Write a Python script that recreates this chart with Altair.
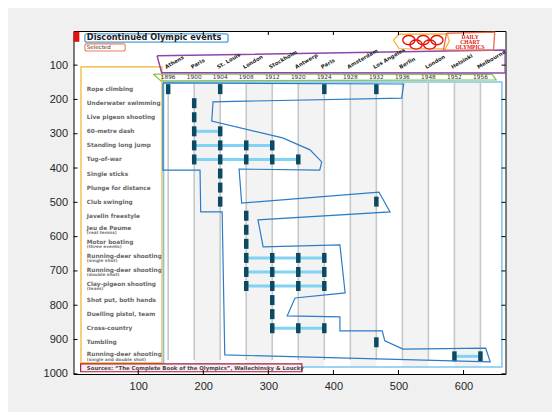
import altair as alt
import pandas as pd

# ---------------- data (image coordinates of the infographic) ----------------
years = [1896, 1900, 1904, 1908, 1912, 1920, 1924, 1928, 1932, 1936, 1948, 1952, 1956]
year_x = [146, 186, 226, 266, 306, 346, 386, 426, 466, 506, 546, 586, 626]
cities = ["Athens", "Paris", "St. Louis", "London", "Stockholm", "Antwerp", "Paris",
          "Amsterdam", "Los Angeles", "Berlin", "London", "Helsinki", "Melbourne"]

events = ["Rope climbing", "Underwater swimming", "Live pigeon shooting", "60-metre dash",
          "Standing long jump", "Tug-of-war", "Single sticks", "Plunge for distance",
          "Club swinging", "Javelin freestyle", "Jeu de Paume", "Motor boating",
          "Running-deer shooting", "Running-deer shooting", "Clay-pigeon shooting",
          "Shot put, both hands", "Duelling pistol, team", "Cross-country", "Tumbling",
          "Running-deer shooting"]
subtitles = ["", "", "", "", "", "", "", "", "", "", "(real tennis)", "(three events)",
             "(single shot)", "(double shot)", "(team)", "", "", "", "",
             "(single and double shot)"]
row_y = [170, 211, 252, 293, 334, 375, 416, 457, 498, 539, 580, 621, 662, 703, 744,
         785, 826, 867, 908, 949]
event_years = [
    [1896, 1904, 1924, 1932], [1900], [1900], [1900, 1904], [1900, 1904, 1908, 1912],
    [1900, 1904, 1908, 1912, 1920], [1904], [1904], [1904, 1932], [1908], [1908], [1908],
    [1908, 1912, 1920, 1924], [1908, 1912, 1920, 1924], [1908, 1912, 1920, 1924],
    [1912], [1912], [1912, 1920, 1924], [1932], [1952, 1956]]

x_ticks = [100, 200, 300, 400, 500, 600]
y_ticks = [100, 200, 300, 400, 500, 600, 700, 800, 900, 1000]

# shaded year columns
shade_x1 = [186, 266, 346, 426, 506, 586]
shade_x2 = [226, 306, 386, 466, 546, 626]

# overlay outlines
sel_x = [138, 138, 195, 196, 229, 233, 641, 634, 507, 479, 475, 410, 410, 329, 341, 418,
         410, 292, 284, 487, 470, 259, 255, 379, 382, 364, 322, 213, 215, 505, 508, 138]
sel_y = [152, 406, 406, 528, 528, 945, 965, 925, 928, 904, 875, 875, 834, 831, 779, 764,
         624, 630, 551, 528, 470, 502, 403, 406, 382, 347, 312, 263, 207, 196, 155, 152]
purple_x = [129, 664, 664, 136, 129]
purple_y = [73, 56, 123, 122, 73]
green_x = [123, 644, 650, 135, 123]
green_y = [126, 127, 143, 146, 126]
hex_x = [492, 501, 575, 578, 572, 501, 492]
hex_y = [27, 10, 9, 30, 53, 52, 27]
daily_x = [574, 648, 646, 569, 574]
daily_y = [7, 4, 56, 56, 7]
ring_x = [516, 538, 559, 527, 548]
ring_y = [27, 27, 27, 40, 40]
daily_text = ["DAILY", "CHART", "OLYMPICS"]
daily_text_y = [19, 33, 47]

# ---------------- helpers ----------------
W, H = 432, 343
xs = alt.Scale(domain=[0.5, 664.5], nice=False, zero=False)
ys = alt.Scale(domain=[0.5, 1000.5], nice=False, zero=False, reverse=True)
xaxis = alt.Axis(values=x_ticks, title=None, ticks=False, domain=False, grid=False,
                 labelPadding=6, format="d")
yaxis = alt.Axis(values=y_ticks, title=None, ticks=False, domain=False, grid=False,
                 labelPadding=6, format="d")


def X(f):
    return alt.X(f, type="quantitative", scale=xs, axis=xaxis)


def Y(f):
    return alt.Y(f, type="quantitative", scale=ys, axis=yaxis)


def poly(xv, yv, color, width=1.2):
    df = pd.DataFrame({"px": xv, "py": yv, "o": list(range(len(xv)))})
    return alt.Chart(df).mark_line(color=color, strokeWidth=width, clip=True).encode(
        x=X("px"), y=Y("py"), order="o:Q")


layers = []

# shaded columns
sh = pd.DataFrame({"x1": shade_x1, "x2": shade_x2, "y1": [149] * 6, "y2": [980] * 6})
layers.append(alt.Chart(sh).mark_rect(color="#f3f3f3").encode(
    x=X("x1"), x2="x2", y=Y("y1"), y2="y2"))

# vertical year lines
yl = pd.DataFrame({"x": year_x, "y1": [152] * 13, "y2": [960] * 13})
layers.append(alt.Chart(yl).mark_rule(color="#c8c8c8", strokeWidth=1.6).encode(
    x=X("x"), y=Y("y1"), y2="y2"))

# connectors and markers
seg_rows, mk_rows = [], []
for i, ev in enumerate(event_years):
    idx = [years.index(v) for v in ev]
    for j in idx:
        mk_rows.append({"x": year_x[j], "y": row_y[i]})
    start = idx[0]
    prev = idx[0]
    for j in idx[1:] + [None]:
        if j is not None and j == prev + 1:
            prev = j
            continue
        if prev > start:
            seg_rows.append({"x1": year_x[start], "x2": year_x[prev], "y": row_y[i]})
        if j is not None:
            start = prev = j
seg = pd.DataFrame(seg_rows)
layers.append(alt.Chart(seg).mark_rule(color="#80d3f4", strokeWidth=3).encode(
    x=X("x1"), x2="x2", y=Y("y")))
mk = pd.DataFrame(mk_rows)
layers.append(alt.Chart(mk).mark_tick(orient="vertical", color="#0b4a62", size=10,
                                      thickness=4.5, opacity=1).encode(x=X("x"), y=Y("y")))

# event labels
lab = pd.DataFrame({"t": events, "s": subtitles, "y": row_y, "x": [21] * len(events),
                    "two": [1 if s else 0 for s in subtitles]})
lab["ym"] = lab["y"] - lab["two"] * 6
lab["ys"] = lab["y"] + 10
layers.append(alt.Chart(lab).mark_text(align="left", baseline="middle", font="DejaVu Sans",
                                       fontSize=5.8, fontWeight="bold", color="#666666",
                                       limit=76, ellipsis="").encode(
    x=X("x"), y=Y("ym"), text="t"))
layers.append(alt.Chart(lab[lab["two"] == 1]).mark_text(
    align="left", baseline="middle", font="DejaVu Sans", fontSize=4.3, fontWeight="bold",
    color="#777777").encode(x=X("x"), y=Y("ys"), text="s"))

# overlay boxes
ob = pd.DataFrame({"x1": [12, 139], "x2": [136.5, 659], "y1": [105, 149], "y2": [968, 980]})
layers.append(alt.Chart(ob.iloc[[0]]).mark_rect(fill=None, stroke="#f0b429", strokeWidth=1.2).encode(
    x=X("x1"), x2="x2", y=Y("y1"), y2="y2"))
layers.append(alt.Chart(ob.iloc[[1]]).mark_rect(fill=None, stroke="#7cc6ee", strokeWidth=1.5).encode(
    x=X("x1"), x2="x2", y=Y("y1"), y2="y2"))
layers.append(poly(sel_x, sel_y, "#2a7cc7", 1.2))

# header: year strip and host cities
layers.append(poly(green_x, green_y, "#8cc152", 1.3))
layers.append(poly(purple_x, purple_y, "#8e44ad", 1.5))
yr = pd.DataFrame({"x": year_x, "t": [str(v) for v in years], "y": [136] * 13,
                   "c": cities, "cx": [v - 3 for v in year_x], "cy": [111] * 13})
layers.append(alt.Chart(yr).mark_text(align="center", baseline="middle", font="DejaVu Sans",
                                      fontSize=5.8, color="#333333").encode(
    x=X("x"), y=Y("y"), text="t"))
layers.append(alt.Chart(yr).mark_text(align="left", baseline="alphabetic", angle=330,
                                      font="DejaVu Sans", fontSize=5.3, fontWeight="bold",
                                      color="#222222").encode(
    x=X("cx"), y=Y("cy"), text="c"))

# title, selected, red tag
tb = pd.DataFrame({"x1": [18, 18], "x2": [238, 80], "y1": [9, 38], "y2": [33, 59]})
layers.append(alt.Chart(tb.iloc[[0]]).mark_rect(fill="white", stroke="#4a9fe0", strokeWidth=1.3,
                                                cornerRadius=2).encode(
    x=X("x1"), x2="x2", y=Y("y1"), y2="y2"))
layers.append(alt.Chart(tb.iloc[[1]]).mark_rect(fill="white", stroke="#f08050", strokeWidth=1.1,
                                                cornerRadius=2).encode(
    x=X("x1"), x2="x2", y=Y("y1"), y2="y2"))
rt = pd.DataFrame({"x1": [0.5], "x2": [9.5], "y1": [2.5], "y2": [32]})
layers.append(alt.Chart(rt).mark_rect(color="#e3120b").encode(
    x=X("x1"), x2="x2", y=Y("y1"), y2="y2"))
tt = pd.DataFrame({"x": [21, 21], "y": [21.5, 48.5],
                   "t": ["Discontinued Olympic events", "Selected"]})
layers.append(alt.Chart(tt.iloc[[0]]).mark_text(align="left", baseline="middle", font="DejaVu Sans",
                                                fontSize=8.2, fontWeight="bold", color="#222222").encode(
    x=X("x"), y=Y("y"), text="t"))
layers.append(alt.Chart(tt.iloc[[1]]).mark_text(align="left", baseline="middle", font="DejaVu Sans",
                                                fontSize=5.5, color="#5a2a2a").encode(
    x=X("x"), y=Y("y"), text="t"))

# logo
layers.append(poly(hex_x, hex_y, "#f5b53f", 1.3))
dpoly = pd.DataFrame({"px": daily_x, "py": daily_y, "o": list(range(len(daily_x)))})
layers.append(alt.Chart(dpoly).mark_line(color="#ec6b4b", strokeWidth=1.3).encode(
    x=X("px"), y=Y("py"), order="o:Q"))
rg = pd.DataFrame({"x": ring_x, "y": ring_y})
layers.append(alt.Chart(rg).mark_point(
    shape="M-1,0 A1,0.75 0 1,1 1,0 A1,0.75 0 1,1 -1,0 Z", size=150, filled=False,
    color="#e3120b", strokeWidth=1.4, opacity=1).encode(x=X("x"), y=Y("y")))
dt = pd.DataFrame({"t": daily_text, "y": daily_text_y, "x": [610] * 3})
layers.append(alt.Chart(dt).mark_text(align="center", baseline="middle", font="Liberation Serif",
                                      fontSize=5.5, fontWeight="bold", color="#e3120b").encode(
    x=X("x"), y=Y("y"), text="t"))

# source box
sb = pd.DataFrame({"x1": [11.5], "x2": [351.5], "y1": [971], "y2": [994], "x": [21], "y": [983],
                   "t": ["Sources: \u201cThe Complete Book of the Olympics\u201d, Wallechinsky & Loucky"]})
layers.append(alt.Chart(sb).mark_rect(fill="#fbeef1", stroke="#a31c3f", strokeWidth=1.2).encode(
    x=X("x1"), x2="x2", y=Y("y1"), y2="y2"))
layers.append(alt.Chart(sb).mark_text(align="left", baseline="middle", font="DejaVu Sans",
                                      fontSize=5.4, fontWeight="bold", color="#444444").encode(
    x=X("x"), y=Y("y"), text="t"))

# inward ticks on all four sides
xt = pd.DataFrame({"v": x_ticks})
ytk = pd.DataFrame({"v": y_ticks})
layers.append(alt.Chart(xt).mark_rule(color="black", strokeWidth=1).encode(
    x=X("v"), y=alt.value(H), y2=alt.value(H - 4)))
layers.append(alt.Chart(xt).mark_rule(color="black", strokeWidth=1).encode(
    x=X("v"), y=alt.value(0), y2=alt.value(4)))
layers.append(alt.Chart(ytk).mark_rule(color="black", strokeWidth=1).encode(
    y=Y("v"), x=alt.value(0), x2=alt.value(4)))
layers.append(alt.Chart(ytk).mark_rule(color="black", strokeWidth=1).encode(
    y=Y("v"), x=alt.value(W), x2=alt.value(W - 4)))

chart = alt.layer(*layers).properties(
    width=W, height=H,
    autosize=alt.AutoSizeParams(type="none"),
    padding={"left": 65.5, "top": 23, "right": 46.5, "bottom": 38},
    background="#f0f0f0",
).configure_view(
    stroke="black", strokeWidth=1, fill="white"
).configure_axis(
    labelFont="Liberation Sans", labelFontSize=11, labelColor="#262626"
)

chart.save("out.html", embed_options={"renderer": "svg", "actions": False})
